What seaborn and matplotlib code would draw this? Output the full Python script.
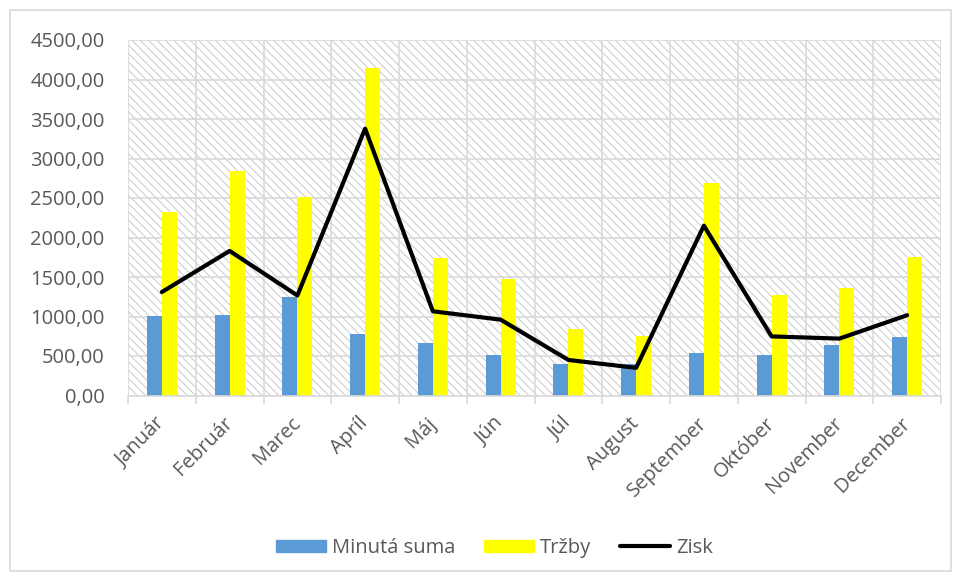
import matplotlib
matplotlib.use("Agg")
import matplotlib.pyplot as plt
from matplotlib.patches import Rectangle, Patch
from matplotlib.lines import Line2D
from matplotlib.ticker import FixedLocator, FuncFormatter
import numpy as np
import pandas as pd
import seaborn as sns

# Monthly figures
mesiace = ["Január", "Február", "Marec", "Apríl", "Máj", "Jún", "Júl",
           "August", "September", "Október", "November", "December"]
minuta_suma = [1010, 1018, 1243, 775, 670, 518, 400, 405, 543, 518, 641, 737]
trzby = [2320, 2838, 2512, 4147, 1736, 1475, 847, 758, 2693, 1268, 1361, 1753]
zisk = [1310, 1830, 1266, 3378, 1066, 960, 450, 350, 2150, 748, 720, 1016]
y_ticks = [0, 500, 1000, 1500, 2000, 2500, 3000, 3500, 4000, 4500]

sns.set_theme(style="white")
plt.rcParams["font.family"] = ["Open Sans", "DejaVu Sans"]
plt.rcParams["hatch.linewidth"] = 0.75

TEXT = "#595959"
GRID = "#d9d9d9"
BLUE = "#5B9BD5"
YELLOW = "#FFFF00"

df = pd.DataFrame({
    "Mesiac": mesiace * 2,
    "Hodnota": minuta_suma + trzby,
    "Séria": ["Minutá suma"] * 12 + ["Tržby"] * 12,
})

fig = plt.figure(figsize=(9.6, 5.81), dpi=100)
fig.patch.set_facecolor("white")
# outer chart frame
fig.add_artist(Rectangle((10 / 960, 10 / 581), 941 / 960, 561 / 581,
                         transform=fig.transFigure, fill=False,
                         edgecolor=GRID, linewidth=1.2))

ax = fig.add_axes([128 / 960, 1 - 395.5 / 581, (941 - 128) / 960, (395.5 - 40) / 581])
ax.set_facecolor("white")

# hatched plot area
ax.add_patch(Rectangle((0, 0), 1, 1, transform=ax.transAxes, facecolor="white",
                       edgecolor="#cdcdcd", linewidth=0, hatch="\\\\\\\\", zorder=0.1))

sns.barplot(data=df, x="Mesiac", y="Hodnota", hue="Séria",
            palette=[BLUE, YELLOW], width=0.44, gap=0, saturation=1,
            linewidth=0, edgecolor="none", legend=False, ax=ax, zorder=2)

sns.lineplot(x=np.arange(len(mesiace)), y=zisk, color="black", linewidth=3.0,
             ax=ax, zorder=3)

ax.set_xlim(-0.5, len(mesiace) - 0.5)
ax.set_ylim(0, 4500)
ax.set_xlabel("")
ax.set_ylabel("")

ax.yaxis.set_major_locator(FixedLocator(y_ticks))
ax.yaxis.set_major_formatter(FuncFormatter(lambda v, p: f"{v:.2f}".replace(".", ",")))
ax.set_xticks(np.arange(len(mesiace)))
ax.set_xticklabels(mesiace, rotation=45, ha="right", va="center",
                   rotation_mode="anchor")
ax.xaxis.set_minor_locator(FixedLocator(np.arange(-0.5, len(mesiace), 1.0)))

ax.set_axisbelow(True)
ax.grid(True, axis="y", which="major", color=GRID, linewidth=1.2, zorder=0.5)
ax.grid(True, axis="x", which="minor", color=GRID, linewidth=1.2, zorder=0.5)
ax.grid(False, axis="x", which="major")

ax.tick_params(axis="y", length=0, pad=17, labelsize=14.5, labelcolor=TEXT)
ax.tick_params(axis="x", which="major", length=0, pad=18, labelsize=14.5,
               labelcolor=TEXT)
ax.tick_params(axis="x", which="minor", length=6, width=1.2, color=GRID,
               direction="out", bottom=True)

for side in ["top", "right", "left"]:
    ax.spines[side].set_visible(False)
ax.spines["bottom"].set_color(GRID)
ax.spines["bottom"].set_linewidth(1.2)

handles = [Patch(facecolor=BLUE, edgecolor=BLUE),
           Patch(facecolor=YELLOW, edgecolor=YELLOW),
           Line2D([0], [0], color="black", linewidth=3.0)]
fig.legend(handles, ["Minutá suma", "Tržby", "Zisk"], loc="center",
           bbox_to_anchor=(0.515, 1 - 548 / 581), ncol=3, frameon=False,
           fontsize=14.5, labelcolor=TEXT, handlelength=2.5, handleheight=0.55,
           handletextpad=0.3, columnspacing=1.4)

fig.savefig("out.png", dpi=100, facecolor="white")
